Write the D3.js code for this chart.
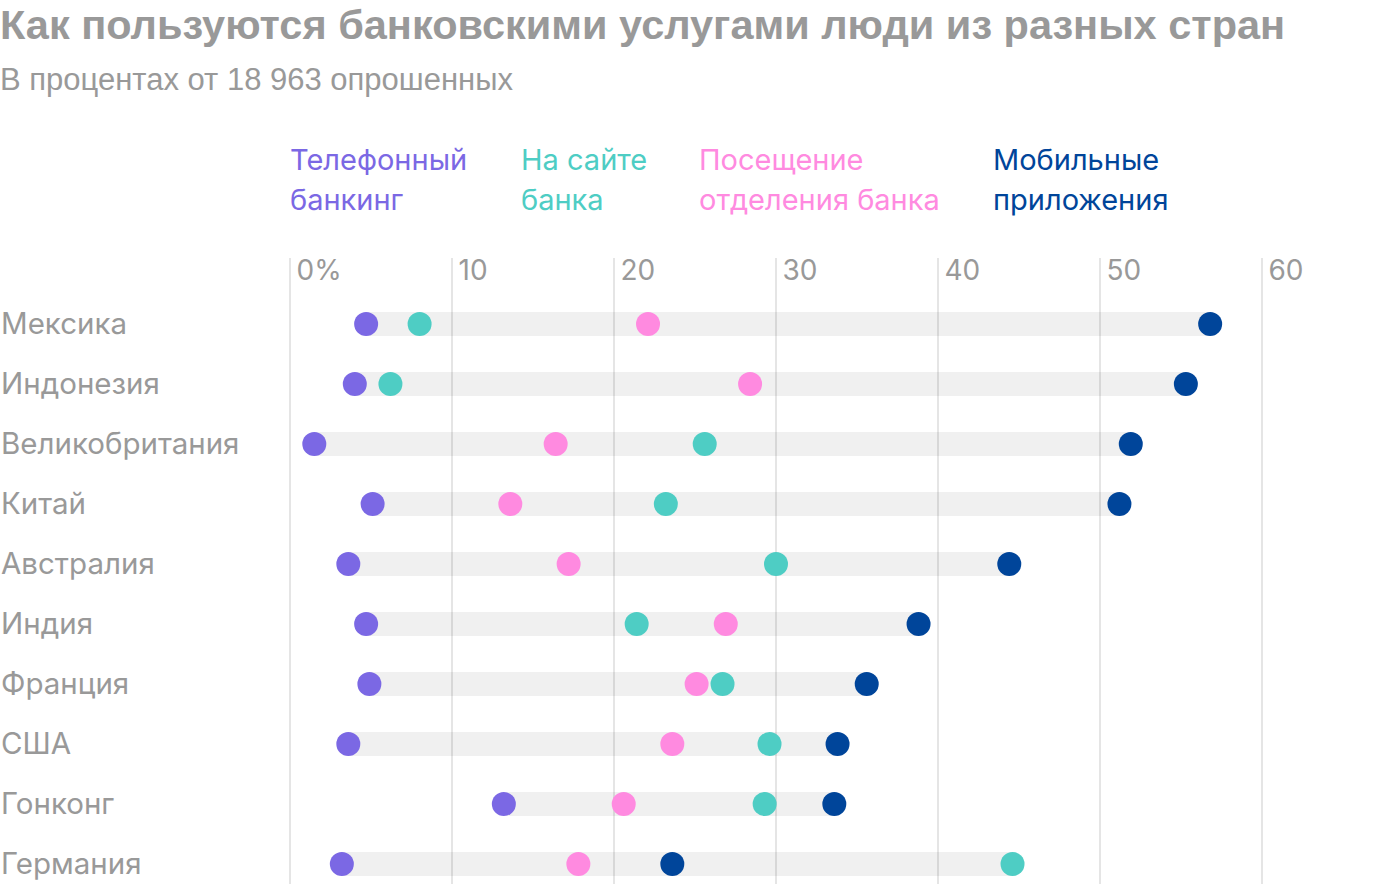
<!DOCTYPE html>
<html>
<head>
<meta charset="utf-8">
<script src="https://cdn.jsdelivr.net/npm/d3@7"></script>
<style>
  body { margin: 0; background: #fff; }
  svg { display: block; font-family: Inter, Roboto, sans-serif; }
</style>
</head>
<body>
<svg id="chart" width="1400" height="884"></svg>
<script>
// data
var countries = ['Мексика', 'Индонезия', 'Великобритания', 'Китай', 'Австралия', 'Индия', 'Франция', 'США', 'Гонконг', 'Германия'];
var phone  = [4.7, 4.0, 1.5, 5.1, 3.6, 4.7, 4.9, 3.6, 13.2, 3.2];
var site   = [8.0, 6.2, 25.6, 23.2, 30.0, 21.4, 26.7, 29.6, 29.3, 44.6];
var branch = [22.1, 28.4, 16.4, 13.6, 17.2, 26.9, 25.1, 23.6, 20.6, 17.8];
var mobile = [56.8, 55.3, 51.9, 51.2, 44.4, 38.8, 35.6, 33.8, 33.6, 23.6];
var seriesNames = [['Телефонный', 'банкинг'], ['На сайте', 'банка'], ['Посещение', 'отделения банка'], ['Мобильные', 'приложения']];
var tickValues = [0, 10, 20, 30, 40, 50, 60];

var PURPLE = '#7b68e4';
var TEAL = '#4ecdc4';
var PINK = '#ff8ae0';
var NAVY = '#00459a';
var GRAY_TEXT = '#999999';
var SANS = "'Liberation Sans', Arial, sans-serif";

var series = [
  {values: phone, color: PURPLE},
  {values: site, color: TEAL},
  {values: branch, color: PINK},
  {values: mobile, color: NAVY}
];

var svg = d3.select('#chart');

var x = d3.scaleLinear().domain([0, 60]).range([290, 1262]);
var y = d3.scaleBand().domain(countries).range([294, 894]);

// title and subtitle
svg.append('text')
  .attr('x', 0).attr('y', 39)
  .attr('font-family', SANS)
  .attr('font-size', 41.5).attr('font-weight', 700)
  .attr('fill', GRAY_TEXT)
  .text('Как пользуются банковскими услугами люди из разных стран');

svg.append('text')
  .attr('x', 0).attr('y', 90)
  .attr('font-family', SANS)
  .attr('font-size', 31)
  .attr('fill', GRAY_TEXT)
  .text('В процентах от 18 963 опрошенных');

// legend
var legendX = [290, 521, 699, 993];
seriesNames.forEach(function(lines, i) {
  var t = svg.append('text')
    .attr('x', legendX[i]).attr('y', 170)
    .attr('font-size', 29)
    .attr('fill', series[i].color);
  lines.forEach(function(line, j) {
    t.append('tspan').attr('x', legendX[i]).attr('dy', j === 0 ? 0 : 40).text(line);
  });
});

// grid + tick labels
var axis = d3.axisTop(x)
  .tickValues(tickValues)
  .tickSize(0)
  .tickFormat(function(d) { return d === 0 ? '0%' : d; });

var axisG = svg.append('g').attr('transform', 'translate(0,258)').call(axis);
axisG.select('.domain').remove();
axisG.selectAll('.tick text')
  .attr('font-size', 28)
  .attr('font-family', 'Inter, Roboto, sans-serif')
  .attr('fill', GRAY_TEXT)
  .attr('text-anchor', 'start')
  .attr('x', 6)
  .attr('y', 22)
  .attr('dy', 0);

// range bands
svg.append('g').selectAll('rect')
  .data(countries)
  .enter().append('rect')
  .attr('x', function(d, i) { return x(d3.min(series, function(s) { return s.values[i]; })); })
  .attr('width', function(d, i) {
    var vals = series.map(function(s) { return s.values[i]; });
    return x(d3.max(vals)) - x(d3.min(vals));
  })
  .attr('y', function(d) { return y(d) + y.bandwidth() / 2 - 12; })
  .attr('height', 24)
  .attr('fill', '#f0f0f0');

// grid lines drawn above bands
svg.append('g').selectAll('line')
  .data(tickValues)
  .enter().append('line')
  .attr('x1', function(d) { return x(d); })
  .attr('x2', function(d) { return x(d); })
  .attr('y1', 258)
  .attr('y2', 884)
  .attr('stroke', 'rgba(0,0,0,0.1)')
  .attr('stroke-width', 2);

// country labels
svg.append('g').selectAll('text')
  .data(countries)
  .enter().append('text')
  .attr('x', 1)
  .attr('y', function(d) { return y(d) + y.bandwidth() / 2 + 10; })
  .attr('font-size', 29.5)
  .attr('fill', GRAY_TEXT)
  .text(function(d) { return d; });

// dots
series.forEach(function(s) {
  svg.append('g').selectAll('circle')
    .data(s.values)
    .enter().append('circle')
    .attr('cx', function(d) { return x(d); })
    .attr('cy', function(d, i) { return y(countries[i]) + y.bandwidth() / 2; })
    .attr('r', 12)
    .attr('fill', s.color);
});
</script>
</body>
</html>
